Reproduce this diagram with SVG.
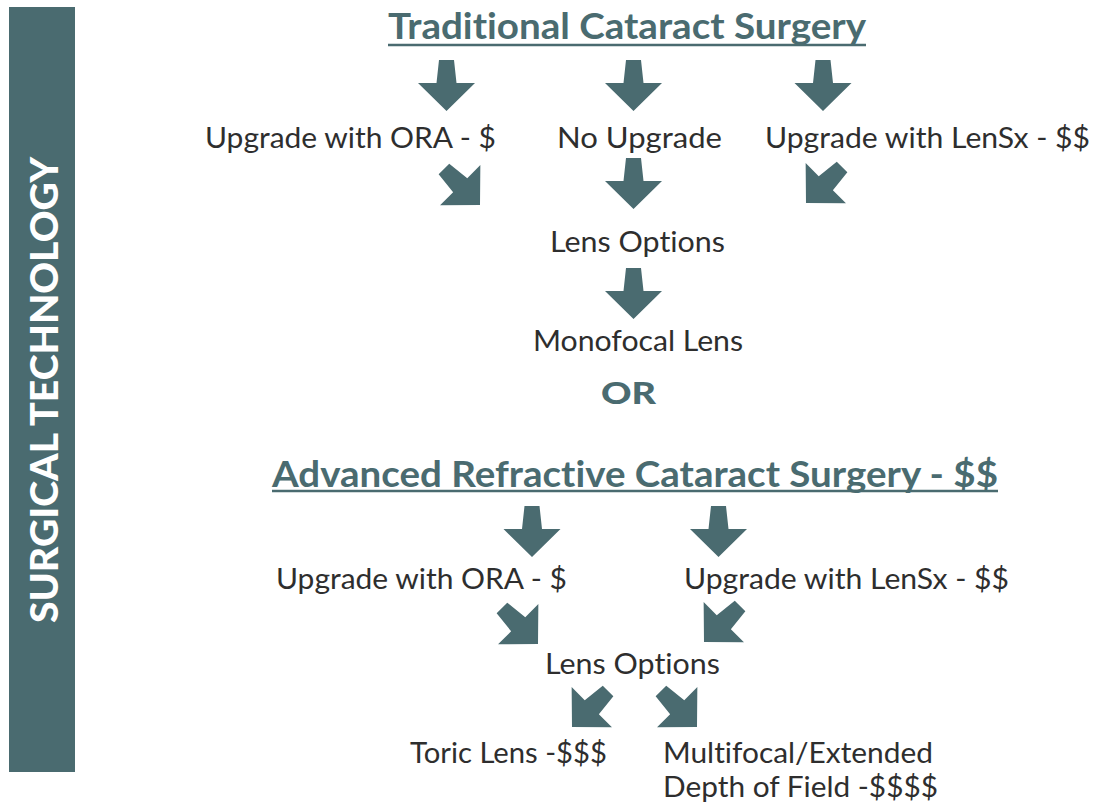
<svg xmlns="http://www.w3.org/2000/svg" xmlns:xlink="http://www.w3.org/1999/xlink" width="1093" height="803" viewBox="0 0 1093 803">
<style>
text{font-variant-ligatures:none;}
.t{font-family:Lato,"Noto Sans","Liberation Sans",sans-serif;font-size:28px;fill:#2e2e2e;}
.h{font-family:Lato,"Noto Sans","Liberation Sans",sans-serif;font-size:36px;font-weight:bold;fill:#4a6b70;}
.ul{stroke:#4a6b70;stroke-width:2.5;}
.a{fill:#4a6b70;}
</style>
<defs>
<polygon id="arr" points="-7.5,-51 7.5,-51 10,-28 28.5,-28 0,0 -28.5,-28 -10,-28"/>
</defs>
<rect x="9" y="7" width="66" height="765" fill="#4a6b70"/>
<text x="0" y="0" transform="translate(58,623) rotate(-90)" font-family="Lato,'Liberation Sans',sans-serif" font-weight="900" font-size="37" fill="#ffffff" textLength="466" lengthAdjust="spacingAndGlyphs">SURGICAL TECHNOLOGY</text>

<g id="title1">
<text class="h" x="388" y="39" textLength="478" lengthAdjust="spacingAndGlyphs">Traditional Cataract Surgery</text>
<line class="ul" x1="388" y1="45" x2="866" y2="45"/>
</g>
<g id="t-ora1"><text class="t" x="205" y="148" textLength="291" lengthAdjust="spacingAndGlyphs">Upgrade with ORA - $</text></g>
<g id="t-noup"><text class="t" x="557" y="148" textLength="165" lengthAdjust="spacingAndGlyphs">No Upgrade</text></g>
<g id="t-lensx1"><text class="t" x="765" y="148" textLength="325" lengthAdjust="spacingAndGlyphs">Upgrade with LenSx - $$</text></g>
<g id="t-lens1"><text class="t" x="550" y="252" textLength="175" lengthAdjust="spacingAndGlyphs">Lens Options</text></g>
<g id="t-mono"><text class="t" x="533" y="351" textLength="210" lengthAdjust="spacingAndGlyphs">Monofocal Lens</text></g>
<g id="t-or"><text x="601" y="404" font-family="Lato,'Liberation Sans',sans-serif" font-weight="900" font-size="31" fill="#4a6b70" textLength="55" lengthAdjust="spacingAndGlyphs">OR</text></g>
<g id="title2">
<text class="h" x="272" y="487" textLength="726" lengthAdjust="spacingAndGlyphs">Advanced Refractive Cataract Surgery - $$</text>
<line class="ul" x1="272" y1="491" x2="998" y2="491"/>
</g>
<g id="t-ora2"><text class="t" x="276" y="589" textLength="291" lengthAdjust="spacingAndGlyphs">Upgrade with ORA - $</text></g>
<g id="t-lensx2"><text class="t" x="684" y="589" textLength="325" lengthAdjust="spacingAndGlyphs">Upgrade with LenSx - $$</text></g>
<g id="t-lens2"><text class="t" x="545" y="674" textLength="175" lengthAdjust="spacingAndGlyphs">Lens Options</text></g>
<g id="t-toric"><text class="t" x="410" y="763" textLength="197" lengthAdjust="spacingAndGlyphs">Toric Lens -$$$</text></g>
<g id="t-multi"><text class="t" x="663" y="763" textLength="270" lengthAdjust="spacingAndGlyphs">Multifocal/Extended</text><text class="t" x="663" y="797" textLength="275" lengthAdjust="spacingAndGlyphs">Depth of Field -$$$$</text></g>

<g id="connectors" class="a">
<use xlink:href="#arr" transform="translate(446.5,111)"/>
<use xlink:href="#arr" transform="translate(633.5,111)"/>
<use xlink:href="#arr" transform="translate(823,111)"/>
<use xlink:href="#arr" transform="translate(480,205) rotate(-45)"/>
<use xlink:href="#arr" transform="translate(633.5,209)"/>
<use xlink:href="#arr" transform="translate(806,203) rotate(45)"/>
<use xlink:href="#arr" transform="translate(633.5,319)"/>
<use xlink:href="#arr" transform="translate(532,557)"/>
<use xlink:href="#arr" transform="translate(718.5,557)"/>
<use xlink:href="#arr" transform="translate(538,644) rotate(-45)"/>
<use xlink:href="#arr" transform="translate(704,642) rotate(45)"/>
<use xlink:href="#arr" transform="translate(572,727) rotate(45)"/>
<use xlink:href="#arr" transform="translate(697,727) rotate(-45)"/>
</g>
</svg>
